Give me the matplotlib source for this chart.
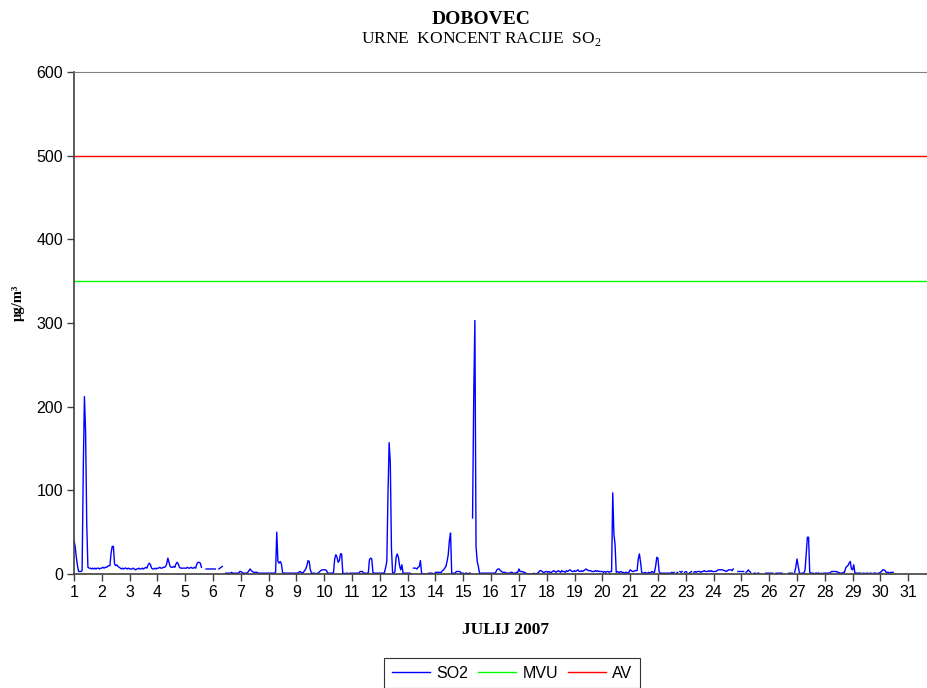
import numpy as np
import matplotlib
matplotlib.use('Agg')
import matplotlib.pyplot as plt

plt.rcParams['font.family'] = ['Liberation Sans', 'DejaVu Sans']
plt.rcParams['mathtext.fontset'] = 'custom'
plt.rcParams['mathtext.rm'] = 'Liberation Serif'

nan = np.nan

# hourly SO2 (ug/m3), one list per day of July 2007, hours 0..23
jul01 = [40, 33, 20, 10, 3, 3, 3, 4, 125, 212, 170, 60, 8, 7, 7, 6, 7, 6, 7, 6, 7, 7, 6, 7]
jul02 = [7, 8, 7, 8, 8, 9, 10, 10, 25, 33, 33, 12, 10, 11, 9, 8, 7, 6, 7, 6, 7, 7, 6, 7]
jul03 = [6, 6, 6, 7, 6, 5, 6, 6, 7, 6, 6, 7, 6, 7, 8, 7, 11, 13, 11, 7, 6, 6, 7, 6]
jul04 = [7, 7, 8, 7, 7, 8, 8, 9, 12, 19, 14, 9, 8, 8, 9, 8, 12, 14, 12, 8, 7, 7, 7, 7]
jul05 = [7, 7, 8, 7, 7, 8, 7, 7, 8, 7, 12, 14, 14, 13, 8, nan, nan, nan, 6, 6, 6, 6, 6, 6]
jul06 = [6, 6, 6, nan, nan, 6, 7, 8, 9, nan, nan, 1, 1, 1, 1, 1, 2, 1, 1, 1, 1, 1, 1, 3]
jul07 = [3, 2, 1, 1, 1, 1, 2, 4, 6, 4, 3, 2, 2, 2, 2, 1, 1, 1, 1, 1, 1, 1, 1, 1]
jul08 = [1, 1, 1, 1, 1, 1, 2, 50, 15, 13, 15, 12, 2, 1, 1, 1, 1, 1, 1, 1, 1, 1, 1, 1]
jul09 = [1, 1, 2, 3, 2, 1, 2, 4, 6, 10, 16, 15, 5, 1, 1, 1, 1, 0, 1, 1, 3, 4, 5, 5]
jul10 = [5, 5, 4, 1, 1, 1, 1, 1, 2, 18, 23, 20, 14, 16, 24, 24, 1, 1, 0, 1, 1, 0, 1, 1]
jul11 = [1, 1, 1, 1, 1, 1, 1, 3, 3, 3, 1, 1, 1, 1, 1, 17, 19, 18, 2, 1, 1, 1, 1, 1]
jul12 = [1, 1, 1, 1, 2, 8, 15, 95, 157, 133, 30, 1, 1, 3, 20, 24, 20, 10, 5, 11, 1, 1, 1, 1]
jul13 = [1, 1, 1, 0, nan, 7, 7, 7, 6, 8, 9, 16, 1, 0, 0, 0, 0, 0, 1, 1, 1, 1, 0, 0]
jul14 = [2, 2, 2, 2, 2, 2, 4, 5, 7, 9, 15, 23, 40, 49, 1, 1, 1, 1, 3, 3, 3, 3, 1, 1]
jul15 = [1, 0, 1, 1, 0, 1, 1, nan, 67, 210, 303, 33, 15, 9, 1, 1, 1, 1, 1, 1, 1, 1, 1, 1]
jul16 = [1, 1, 1, 1, 2, 5, 6, 6, 4, 3, 2, 2, 2, 1, 1, 1, 1, 2, 2, 1, 1, 1, 2, 2]
jul17 = [6, 3, 3, 3, 2, 2, 1, 0, 0, 0, 0, 0, 0, 1, 0, 0, 1, 2, 4, 4, 3, 2, 2, 3]
jul18 = [3, 2, 3, 2, 2, 3, 4, 3, 2, 3, 4, 3, 2, 4, 3, 3, 2, 4, 3, 4, 5, 4, 3, 3]
jul19 = [4, 3, 4, 5, 3, 3, 4, 3, 4, 5, 6, 5, 4, 4, 4, 3, 3, 3, 4, 3, 4, 3, 3, 3]
jul20 = [3, 2, 3, 2, 3, 3, 2, 3, 3, 97, 48, 35, 2, 3, 2, 2, 3, 2, 2, 1, 2, 2, 1, 2]
jul21 = [5, 4, 3, 3, 4, 4, 4, 18, 24, 14, 2, 1, 1, 2, 1, 1, 2, 1, 2, 3, 2, 2, 9, 20]
jul22 = [19, 3, 1, 1, 1, 1, 1, 1, 1, 1, 1, 1, 2, 1, 2, nan, 1, 2, nan, 3, 2, 3, nan, 2]
jul23 = [3, 2, nan, 1, 2, 3, nan, 2, 3, 2, 3, 3, 3, 2, 3, 3, 4, 3, 3, 3, 4, 3, 4, 3]
jul24 = [3, 3, 3, 4, 5, 5, 5, 5, 5, 4, 4, 3, 4, 5, 5, 5, 4, 6, nan, nan, nan, 3, 3, 3]
jul25 = [3, 3, 3, nan, 2, 3, 5, 3, 2, nan, nan, 1, 1, nan, 1, 1, nan, nan, nan, nan, nan, 1, 1, 1]
jul26 = [1, 1, 1, 1, nan, nan, 1, 1, 1, 1, 1, 1, nan, nan, nan, nan, nan, 1, 1, 1, 1, nan, 2, 8]
jul27 = [18, 10, 2, 0, 1, 1, 1, 5, 25, 44, 44, 2, 1, 1, 1, 0, 1, 1, 1, 1, 0, 1, 0, 1]
jul28 = [1, 1, 1, 1, 1, 2, 3, 3, 3, 3, 3, 2, 2, 1, 1, 1, 2, 2, 7, 9, 10, 13, 15, 6]
jul29 = [5, 11, 1, 1, 1, 1, 1, 1, nan, 1, 1, 0, 1, 1, nan, 1, 1, nan, 1, 1, 1, nan, 1, 1]
jul30 = [2, 3, 5, 5, 4, 2, 2, 2, 1, 2, 2, 2, nan, nan, nan, nan, nan, nan, nan, nan, nan, nan, nan, nan]

days = [jul01, jul02, jul03, jul04, jul05, jul06, jul07, jul08, jul09, jul10,
        jul11, jul12, jul13, jul14, jul15, jul16, jul17, jul18, jul19, jul20,
        jul21, jul22, jul23, jul24, jul25, jul26, jul27, jul28, jul29, jul30]

mvu = 350
av = 500
day_labels = [str(d) for d in range(1, 32)]

so2 = np.concatenate([np.array(d, dtype=float) for d in days])
x = np.array([d + h / 24.0 for d in range(1, len(days) + 1) for h in range(24)])

fig = plt.figure(figsize=(9.28, 6.88), dpi=100)
W, H = 928.0, 688.0
ax = fig.add_axes([74 / W, (H - 574) / H, (936 - 74) / W, 502 / H])

ax.plot(x, so2, color='#0000ff', lw=1.0, label='SO2')
ax.axhline(mvu, color='#00ff00', lw=1.0, label='MVU')
ax.axhline(av, color='#ff0000', lw=1.0, label='AV')

ax.set_xlim(1, 32)
ax.set_ylim(0, 600)
ax.set_xticks(range(1, 33))
ax.set_xticklabels(day_labels + [''])
ax.set_yticks(range(0, 601, 100))
ax.tick_params(direction='out', length=5, width=1, labelsize=11.5, color='#404040', pad=3)
for s in ['left', 'bottom']:
    ax.spines[s].set_color('#404040')
    ax.spines[s].set_linewidth(1.2)
ax.spines['top'].set_color('#808080')
ax.spines['right'].set_visible(False)

serif = ['Liberation Serif', 'DejaVu Serif']
fig.text(481 / W, 1 - 20 / H, 'DOBOVEC', family=serif, weight='bold', fontsize=14,
         ha='center', va='center')
fig.text(481 / W, 1 - 39 / H, 'URNE  KONCENT RACIJE  SO$_2$', family=serif, fontsize=12.5,
         ha='center', va='center')
fig.text(18 / W, 1 - 303 / H, 'µg/m³', family=serif, weight='bold', fontsize=10.5,
         rotation=90, ha='center', va='center')
fig.text(505 / W, 1 - 630 / H, 'JULIJ 2007', family=serif, weight='bold', fontsize=12.5,
         ha='center', va='center')

leg = fig.legend(loc='center', bbox_to_anchor=(512 / W, 1 - 673 / H), ncol=3,
                 fontsize=11.5, frameon=True, fancybox=False, edgecolor='black',
                 handlelength=2.4, handletextpad=0.4, columnspacing=0.6,
                 borderpad=0.45, borderaxespad=0)
leg.get_frame().set_linewidth(0.8)

fig.savefig('out.png', dpi=100)
